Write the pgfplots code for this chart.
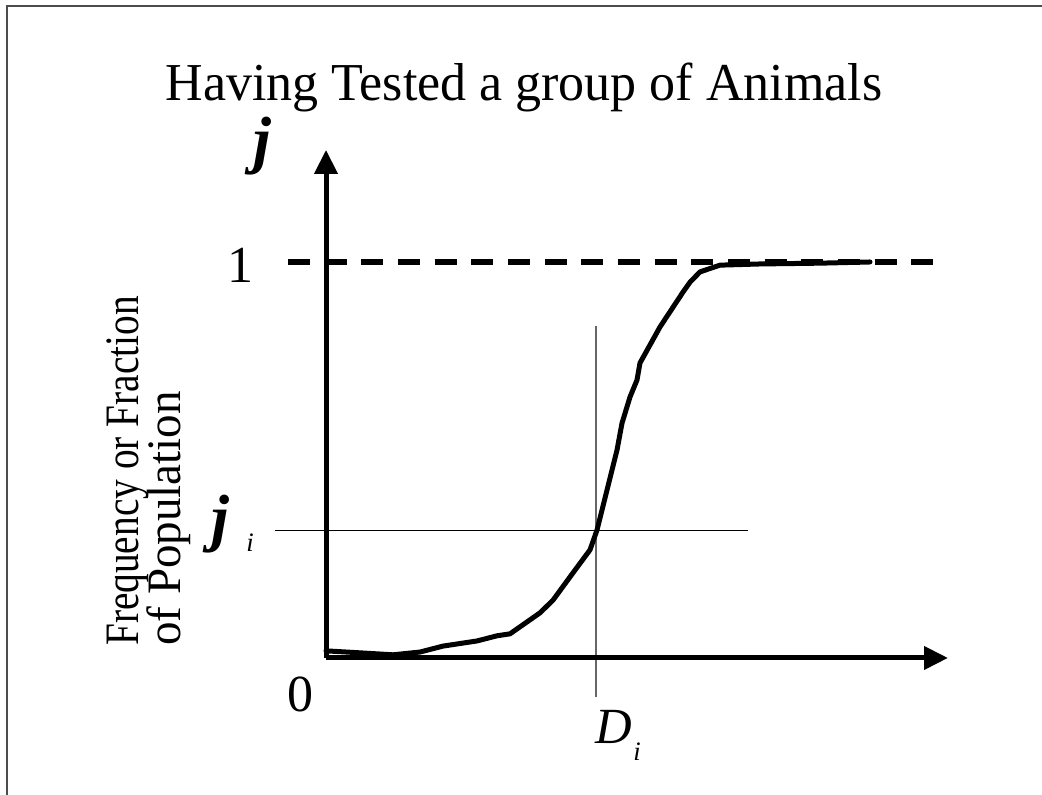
\documentclass[border=0pt]{standalone}
\usepackage{pgfplots}
\pgfplotsset{compat=1.18}
\usepackage{fontspec}
\setmainfont{Liberation Serif}
\usetikzlibrary{arrows.meta}

% cumulative response curve: dose (x) against fraction responding (y)
\pgfplotstableread{
x     y
0.00  0.018
0.34  0.013
0.67  0.008
0.94  0.015
1.17  0.030
1.51  0.043
1.71  0.056
1.84  0.061
2.01  0.091
2.14  0.114
2.27  0.146
2.47  0.215
2.64  0.273
2.71  0.323
2.81  0.424
2.91  0.525
2.96  0.593
3.04  0.659
3.11  0.702
3.14  0.745
3.34  0.836
3.57  0.924
3.64  0.949
3.74  0.975
3.94  0.992
4.34  0.995
4.94  0.997
5.44  1.000
}\curvedata

\begin{document}
\begin{tikzpicture}
\useasboundingbox (0,0) rectangle (781.5pt,596.25pt);
\begin{axis}[
  at={(0,0)}, anchor=south west,
  scale only axis, width=781.5pt, height=596.25pt,
  xmin=-3.26, xmax=7.16, ymin=-0.346, ymax=1.6616,
  hide axis, clip=false,
]
% cross-hair at the median point
\addplot[black, line width=0.75pt] coordinates {(-0.51,0.323) (4.22,0.323)};
\addplot[black!60, line width=1.2pt] coordinates {(2.70,0.838) (2.70,-0.098)};
% asymptote at 1
\addplot[black, line width=4.5pt, dash pattern=on 16.5pt off 11pt] coordinates {(-0.38,1) (6.22,1)};
% response curve
\addplot[black, line width=3.75pt, line join=round, line cap=round] table {\curvedata};
% axes with arrow heads
\addplot[black, line width=3.75pt, -{Triangle[length=18pt,width=17pt]}] coordinates {(0,0) (6.22,0)};
\addplot[black, line width=3.75pt, -{Triangle[length=18pt,width=17pt]}] coordinates {(0,0) (0,1.283)};

% text
\node[anchor=base, font=\fontsize{40}{44}\selectfont] at (axis cs:1.98,1.409) {\scalebox{0.975}[1]{Having Tested a group of Animals}};
\node[anchor=base, font=\fontsize{48}{52}\selectfont\bfseries\itshape] at (axis cs:-0.64,1.255) {j};
\node[anchor=base, font=\fontsize{39}{44}\selectfont] at (axis cs:-0.86,0.949) {1};
\node[anchor=base, font=\fontsize{39}{44}\selectfont] at (axis cs:-0.26,-0.134) {0};
\node[anchor=base, font=\fontsize{38}{44}\selectfont\itshape] at (axis cs:2.88,-0.215) {D};
\node[anchor=base west, inner sep=0pt, font=\fontsize{20}{24}\selectfont\itshape] at (axis cs:3.07,-0.258) {i};
\node[anchor=base, font=\fontsize{48}{52}\selectfont\bfseries\itshape] at (axis cs:-1.06,0.298) {j};
\node[anchor=base west, inner sep=0pt, font=\fontsize{20}{24}\selectfont\itshape] at (axis cs:-0.80,0.268) {i};
\node[anchor=base west, rotate=90, inner sep=0pt, font=\fontsize{36}{44}\selectfont] at (axis cs:-1.88,0.030) {\scalebox{0.82}[1]{Frequency or Fraction}};
\node[anchor=base west, rotate=90, inner sep=0pt, font=\fontsize{36}{44}\selectfont] at (axis cs:-1.46,0.030) {\scalebox{0.98}[1]{of Population}};
\end{axis}
% slide frame
\draw[line width=1.5pt, black!70] (4.9pt,0) -- (4.9pt,592.1pt) -- (781.5pt,592.1pt);
\end{tikzpicture}
\end{document}
